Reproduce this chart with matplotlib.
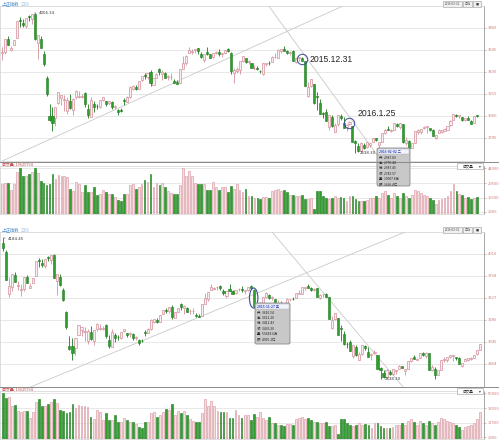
import numpy as np
import matplotlib
matplotlib.use("Agg")
import matplotlib.pyplot as plt
from matplotlib.patches import Ellipse, FancyBboxPatch, Rectangle

plt.rcParams['font.family'] = ['Noto Sans CJK SC', 'DejaVu Sans']

# SSE composite daily bars, 2015-07-24 .. 2016-03-31 (167 sessions)
opens = [
  4124, 4035, 3573, 3645, 3781, 3659,
  3614, 3621, 3755, 3641, 3692, 3765, 3939, 3913, 3881, 3977, 3947, 3998, 3709, 3754, 3609, 3373, 3004, 2999, 2978, 3125, 3173,
  3158, 3053, 3149, 3054, 3186, 3190, 3189, 3226, 3064, 2988, 3122, 3098, 3085, 3159, 3143, 3129, 3135, 3092, 3062, 3054,
  3156, 3138, 3184, 3263, 3283, 3263, 3347, 3399, 3380, 3428, 3307, 3372, 3460, 3414, 3418, 3384, 3379,
  3338, 3331, 3325, 3460, 3515, 3619, 3625, 3645, 3660, 3605, 3546, 3627, 3604, 3580, 3620, 3627, 3603, 3614, 3653, 3616, 3425,
  3440, 3450, 3533, 3563, 3530, 3519, 3465, 3470, 3442, 3415, 3511, 3520, 3528, 3573, 3570, 3640, 3655, 3633, 3612, 3632, 3528, 3566, 3570,
  3536, 3196, 3291, 3309, 3195, 3131, 3026, 3042, 2891, 2988, 2847, 2917, 2998, 2934, 2896, 2919, 2902, 2754, 2707, 2655,
  2716, 2694, 2720, 2750, 2781, 2720, 2747, 2832, 2875, 2851, 2865, 2924, 2893, 2923, 2733, 2752,
  2683, 2738, 2845, 2846, 2880, 2893, 2880, 2865, 2784, 2837, 2848, 2857, 2867, 2909, 2961, 3006, 2996, 2990, 2961, 2985, 2955, 2935, 3004,
]
highs = [
  4184.45, 4051, 3758, 3790, 3815, 3712,
  3675, 3757, 3782, 3687, 3745, 3930, 3970, 3952, 3955, 3985, 3994, 4006.34, 3794, 3784, 3640, 3388, 3114, 3092, 3085, 3233, 3208,
  3207, 3183, 3217, 3172, 3256, 3243, 3214, 3236, 3119, 3182, 3147, 3118, 3156, 3188, 3143, 3149, 3146, 3107, 3071, 3074,
  3172, 3200, 3293, 3298, 3307, 3338, 3394, 3421, 3425, 3448, 3369, 3417, 3468, 3448, 3426, 3405, 3417,
  3363, 3348, 3460, 3585, 3597, 3678, 3651, 3657, 3666, 3627, 3607, 3679, 3610, 3618, 3640, 3654, 3617, 3648, 3668, 3621, 3470,
  3483, 3538, 3591, 3568, 3543, 3519, 3499, 3490, 3452, 3521, 3518, 3538, 3582, 3615, 3651, 3652, 3684.57, 3646, 3635, 3641, 3565, 3573, 3576,
  3538, 3328, 3362, 3309, 3235, 3166, 3042, 3068, 3011, 3006, 2930, 3008, 3016, 2989, 2918, 2951, 2902, 2768, 2733, 2747,
  2734, 2750, 2740, 2789, 2782, 2750, 2837, 2868, 2900, 2870, 2927, 2933, 2929, 2923, 2795, 2765,
  2733, 2849, 2876, 2875, 2905, 2905, 2880, 2877, 2816, 2868, 2866, 2881, 2905, 2959, 3019, 3016, 3011, 2993, 2985, 2995, 2961, 3000, 3014,
]
lows = [
  4044, 3720, 3537, 3600, 3699, 3614,
  3549, 3608, 3689, 3635, 3692, 3765, 3871, 3868, 3856, 3931, 3896, 3741, 3558, 3663, 3490, 3191, 2952, 2850.71, 2906, 3118, 3109,
  3053, 3019, 3066, 3011, 3165, 3178, 3178, 3085, 2983, 2988, 3041, 3068, 3076, 3148, 3101, 3103, 3066, 3069, 3011, 3039,
  3108, 3137, 3179, 3252, 3256, 3262, 3346, 3358, 3366, 3296, 3306, 3369, 3400, 3349, 3373, 3356, 3354,
  3319, 3313, 3324, 3460, 3498, 3614, 3610, 3618, 3610, 3562, 3524, 3600, 3565, 3565, 3601, 3591, 3574, 3605, 3625, 3412, 3327,
  3416, 3414, 3523, 3519, 3504, 3466, 3454, 3450, 3420, 3397, 3493, 3503, 3527, 3568, 3570, 3616, 3633, 3606, 3600, 3533, 3515, 3538, 3538,
  3295, 3189, 3288, 3115, 3056, 3016, 2979, 2949, 2867, 2888, 2844, 2904, 2961, 2880, 2851, 2915, 2748, 2638.30, 2651, 2652,
  2682, 2685, 2694, 2749, 2757, 2682, 2742, 2822, 2861, 2842, 2865, 2894, 2873, 2740, 2721, 2639,
  2683, 2738, 2827, 2827, 2870, 2830, 2850, 2804, 2774, 2835, 2835, 2851, 2864, 2904, 2960, 2991, 2979, 2954, 2954, 2956, 2918, 2935, 2994,
]
closes = [
  4071, 3726, 3663, 3789, 3705, 3664,
  3622, 3757, 3695, 3661, 3744, 3928, 3928, 3887, 3955, 3965, 3993, 3748, 3794, 3664, 3508, 3210, 2965, 2927, 3084, 3232, 3206,
  3166, 3160, 3080, 3170, 3243, 3197, 3200, 3114, 3005, 3152, 3086, 3097, 3156, 3185, 3115, 3142, 3092, 3100, 3038, 3052,
  3143, 3183, 3287, 3293, 3262, 3338, 3391, 3386, 3425, 3320, 3368, 3412, 3429, 3434, 3375, 3387, 3383,
  3325, 3316, 3460, 3522, 3590, 3646, 3640, 3650, 3632, 3580, 3606, 3604, 3568, 3618, 3630, 3610, 3616, 3647, 3635, 3436, 3445,
  3456, 3537, 3584, 3525, 3536, 3470, 3472, 3455, 3435, 3520, 3511, 3516, 3581, 3578, 3643, 3652, 3636, 3613, 3627, 3533, 3563, 3572, 3539,
  3296, 3288, 3361, 3125, 3186, 3017, 3022, 2949, 3007, 2900, 2913, 3008, 2977, 2881, 2916, 2938, 2749, 2735, 2655, 2738,
  2689, 2749, 2739, 2781, 2763, 2746, 2836, 2867, 2862, 2860, 2927, 2903, 2928, 2741, 2767, 2687,
  2733, 2849, 2859, 2874, 2897, 2901, 2863, 2804, 2810, 2859, 2864, 2870, 2904, 2955, 3018, 2999, 3009, 2960, 2979, 2957, 2919, 3000, 3003,
]
# volume, 1e8 shares
volumes = [
  500, 450, 460, 360, 370, 300,
  290, 300, 300, 230, 290, 400, 440, 360, 360, 380, 400, 440, 390, 320, 300, 280, 290, 380, 340, 370, 360,
  360, 350, 240, 220, 310, 290, 210, 280, 210, 210, 260, 180, 190, 230, 210, 190, 190, 160, 130, 120,
  190, 190, 280, 290, 240, 260, 290, 330, 310, 380, 260, 300, 280, 300, 260, 220, 200,
  190, 190, 280, 440, 360, 410, 360, 300, 290, 290, 290, 230, 230, 310, 260, 230, 260, 260, 210, 270, 240,
  290, 230, 210, 240, 170, 170, 150, 150, 140, 160, 160, 150, 220, 230, 240, 220, 230, 210, 180, 180, 170, 170, 180,
  140, 140, 150, 50, 220, 220, 170, 150, 140, 150, 170, 150, 160, 150, 120, 170, 170, 140, 120, 120,
  120, 130, 150, 150, 170, 150, 200, 220, 180, 150, 200, 170, 150, 200, 170, 150,
  180, 230, 220, 200, 180, 170, 150, 130, 100, 130, 140, 150, 170, 220, 290, 220, 190, 180, 150, 160, 140, 150, 160,
]

# sessions shown in each chart (index into the lists above)
TOP_RANGE = (6, 166)      # 2015-08-03 .. 2016-03-31
BOT_RANGE = (0, 158)      # 2015-07-24 .. 2016-03-21
DEC31, JAN25, JAN27, AUG18, NOV27, JUL24 = 107, 123, 125, 17, 83, 0

top_price_ticks = [3860, 3645, 3430, 3215, 3000, 2785]
bot_price_ticks = [4010, 3768, 3527, 3286, 3045, 2804]
top_vol_ticks = [20, 155, 295, 440]
bot_vol_ticks = [20, 175, 335, 500]

top_tip = ["2016-02-02 二", "开: 2687.89", "高: 2750.44", "低: 2687.45", "收: 2749.57", "量: 19007.8万", "额: 1696.4亿"]
bot_tip = ["2015-11-27 五", "开: 3616.54", "高: 3621.20", "低: 3412.43", "收: 3436.30", "量: 55418.6万", "额: 4905.1亿"]

UP_FACE, UP_EDGE = '#fbeef0', '#d4909a'
DN_FACE, DN_EDGE = '#2f9e2f', '#1b7a1b'
VUP_FACE, VUP_EDGE = '#f5dde0', '#dca4ac'
GRID = '#e4e4e4'
LBL = '#cf7f7f'

W, H = 499, 441
fig = plt.figure(figsize=(W / 100, H / 100), dpi=100)
fig.patch.set_facecolor('white')


def px_axes(x0, y0, x1, y1):
  return fig.add_axes([x0 / W, 1 - y1 / H, (x1 - x0) / W, (y1 - y0) / H])


def style(ax, ticks, lims, xlim, fmt):
  ax.set_xlim(*xlim)
  ax.set_ylim(*lims)
  ax.yaxis.tick_right()
  ax.set_yticks(ticks)
  ax.set_yticklabels([fmt(t) for t in ticks])
  ax.tick_params(axis='y', labelsize=3, colors=LBL, length=1.5, width=0.4, pad=1)
  ax.tick_params(axis='x', bottom=False, labelbottom=False)
  for t in ticks:
    ax.axhline(t, color=GRID, lw=0.6, zorder=0)
  for s in ['top', 'left', 'bottom']:
    ax.spines[s].set_color('#d0d0d0')
    ax.spines[s].set_linewidth(0.5)
  ax.spines['right'].set_color('#9a9a9a')
  ax.spines['right'].set_linewidth(0.6)


def candles(ax, vax, rng):
  a, b = rng
  o = np.array(opens[a:b + 1], float)
  h = np.array(highs[a:b + 1], float)
  l = np.array(lows[a:b + 1], float)
  c = np.array(closes[a:b + 1], float)
  v = np.array(volumes[a:b + 1], float)
  x = np.arange(len(o))
  up = c >= o
  dn = ~up
  body = np.maximum(np.abs(c - o), 4)
  bot = np.minimum(o, c)
  ax.vlines(x[up], l[up], h[up], color=UP_EDGE, lw=0.6, zorder=2)
  ax.vlines(x[dn], l[dn], h[dn], color=DN_EDGE, lw=0.6, zorder=2)
  ax.bar(x[up], body[up], bottom=bot[up], width=0.7, facecolor=UP_FACE, edgecolor=UP_EDGE, lw=0.5, zorder=3)
  ax.bar(x[dn], body[dn], bottom=bot[dn], width=0.7, facecolor=DN_FACE, edgecolor=DN_EDGE, lw=0.4, zorder=3)
  vax.bar(x[up], v[up], width=0.6, facecolor=VUP_FACE, edgecolor=VUP_EDGE, lw=0.5, zorder=3)
  vax.bar(x[dn], v[dn], width=0.6, facecolor=DN_FACE, edgecolor=DN_EDGE, lw=0.4, zorder=3)


# ---------------- top chart ----------------
top_xlim = (-2 / 2.97, 482 / 2.97)
ax1 = px_axes(0, 6, 484, 161)
vx1 = px_axes(0, 166, 484, 214)
style(ax1, top_price_ticks, (2560, 4075), top_xlim, lambda t: f"{t:.0f}")
style(vx1, top_vol_ticks, (0, 460), top_xlim, lambda t: f"{t * 100:.0f}")
candles(ax1, vx1, TOP_RANGE)
t0 = TOP_RANGE[0]
ax1.plot([-0.67, 116.2], [2550, 4094], color='#c9c9c9', lw=0.6, zorder=1)
ax1.plot([89.6, 126.3], [4084, 2619], color='#c9c9c9', lw=0.6, zorder=1)

ax1.annotate('4006.34', xy=(AUG18 - t0, highs[AUG18]), xytext=(4, 0), textcoords='offset pixels',
             fontsize=2.8, va='center', color='#333333', family='DejaVu Sans',
             arrowprops=dict(arrowstyle='-', lw=0.4, color='#333333'))
ax1.annotate('2638.30', xy=(JAN27 - t0, lows[JAN27]), xytext=(4, 0), textcoords='offset pixels',
             fontsize=2.8, va='center', color='#333333', family='DejaVu Sans')

for d, dy, lab in [(DEC31, 0, '2015.12.31'), (JAN25, 10, '2016.1.25')]:
  mid = (opens[d] + closes[d]) / 2
  ax1.plot(d - t0, mid, 'o', ms=7.5, mfc='none', mec='#3a4a9c', mew=0.7, zorder=5)
  ax1.annotate(lab, xy=(d - t0, mid), xytext=(8, dy), textcoords='offset pixels',
               fontsize=6.2, family='Liberation Sans', va='center', color='#222222', zorder=6)

# ---------------- bottom chart ----------------
bot_xlim = (-3 / 3.02, 481 / 3.02)
ax2 = px_axes(0, 232, 484, 387)
vx2 = px_axes(0, 391, 484, 439)
style(ax2, bot_price_ticks, (2550, 4250), bot_xlim, lambda t: f"{t:.0f}")
style(vx2, bot_vol_ticks, (0, 522), bot_xlim, lambda t: f"{t * 100:.0f}")
candles(ax2, vx2, BOT_RANGE)
b0 = BOT_RANGE[0]
ax2.plot([8.3, 133.1], [2539, 4250], color='#c9c9c9', lw=0.6, zorder=1)
ax2.plot([89.1, 132.5], [4250, 2550], color='#c9c9c9', lw=0.6, zorder=1)

ax2.annotate('4184.45', xy=(JUL24 - b0, highs[JUL24]), xytext=(5, -1), textcoords='offset pixels',
             fontsize=2.8, va='center', color='#333333', family='DejaVu Sans',
             arrowprops=dict(arrowstyle='-', lw=0.4, color='#333333'))
ax2.annotate('2638.30', xy=(JAN27 - b0, lows[JAN27]), xytext=(4, 0), textcoords='offset pixels',
             fontsize=2.8, va='center', color='#333333', family='DejaVu Sans')
mid = (opens[NOV27] + closes[NOV27]) / 2
ax2.add_patch(Ellipse((NOV27 - b0, mid), 2.8, 220, fill=False, ec='#3a4a9c', lw=0.8, zorder=5))

# ---------------- overlay (pixel space) ----------------
ov = fig.add_axes([0, 0, 1, 1], zorder=10)
ov.set_xlim(0, W)
ov.set_ylim(H, 0)
ov.axis('off')
ov.patch.set_alpha(0)

for ytop in (0, 226):
  ov.text(2, ytop + 4, '上证指数', fontsize=3.2, color='#4a90d0', va='center')
  ov.text(20, ytop + 4, '日线', fontsize=3.2, color='#a9c8e8', va='center')
  # top-right buttons
  for bx, bw, lab in [(443, 19, '2016-03-31'), (463, 9, '日线'), (473, 8, '■')]:
    ov.add_patch(Rectangle((bx, ytop + 1), bw, 6, fc='#f0f0f0', ec='#9a9a9a', lw=0.4))
    ov.text(bx + bw / 2, ytop + 4, lab, fontsize=2.2, ha='center', va='center', color='#444444')

for ysep, yv in [(162, 164), (387, 389)]:
  ov.plot([0, W], [ysep, ysep], color='#8a8a8a', lw=0.7)
  ov.text(2, yv + 1, '成交量: 19625794', fontsize=2.8, color='#c04848', va='center')
  ov.add_patch(Rectangle((457, yv - 1), 26, 6, fc='white', ec='#9a9a9a', lw=0.4))
  ov.text(468, yv + 2, '成交量', fontsize=2.6, ha='center', va='center', color='#333333')
  ov.text(480, yv + 2, '▾', fontsize=2.6, ha='center', va='center', color='#333333', family='DejaVu Sans')


def tooltip(x0, y0, w, h, rows):
  ov.add_patch(FancyBboxPatch((x0, y0), w, h, boxstyle='round,pad=0,rounding_size=1.5',
                              fc='#c8c8c8', ec='#8a8a8a', lw=0.6))
  ov.add_patch(Rectangle((x0 + 1.2, y0 + 1.2), w - 2.4, 5, fc='#f2f4fa', ec='#b0b0b0', lw=0.3))
  ov.text(x0 + 2.5, y0 + 3.8, rows[0], fontsize=2.4, color='#2a3fbf', va='center', fontweight='bold')
  for k, r in enumerate(rows[1:]):
    ov.text(x0 + 2.5, y0 + 10 + k * 5.2, r, fontsize=2.4, color='#222222', va='center')


tooltip(377, 148, 33, 38, top_tip)
tooltip(255, 303, 35, 41, bot_tip)

fig.savefig('out.png', dpi=100, facecolor='white')
